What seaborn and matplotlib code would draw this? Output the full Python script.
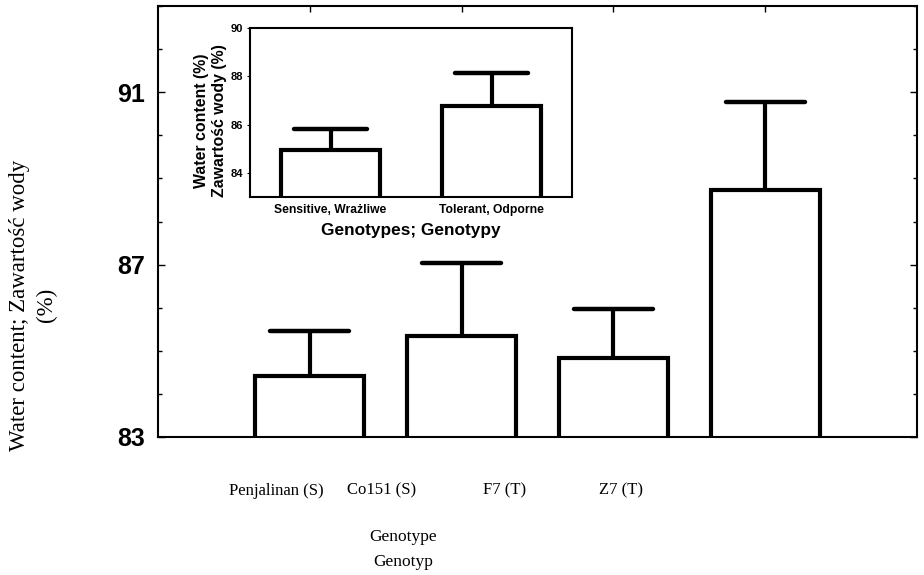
import matplotlib
matplotlib.use("Agg")
import matplotlib.pyplot as plt
import seaborn as sns
import pandas as pd
import numpy as np
from matplotlib.ticker import MultipleLocator

# ---- data ----
main_genotypes = ["Penjalinan (S)", "Co151 (S)", "F7 (T)", "Z7 (T)"]
main_means = [84.41, 85.34, 84.83, 88.72]
main_upper = [85.45, 87.03, 85.96, 90.78]
main_yticks = [83, 87, 91]

inset_groups = ["Sensitive, Wrażliwe", "Tolerant, Odporne"]
inset_means = [84.95, 86.77]
inset_upper = [85.82, 88.13]
inset_yticks = [84, 86, 88, 90]

sns.set_style("white")
plt.rcParams["font.family"] = ["Liberation Sans", "DejaVu Sans"]
plt.rcParams.update({"text.color": "black", "axes.labelcolor": "black",
                     "xtick.color": "black", "ytick.color": "black"})
SERIF = ["Liberation Serif", "DejaVu Serif"]

W, H = 924, 575
fig = plt.figure(figsize=(W / 100, H / 100), dpi=100)

def fx(px):
    return px / W

def fy(py):
    return 1 - py / H

# ---- main axes ----
ax = fig.add_axes([fx(158), fy(437), fx(917) - fx(158), fy(6) - fy(437)])
df_main = pd.DataFrame({"Genotype": main_genotypes, "Water": main_means})
sns.barplot(data=df_main, x="Genotype", y="Water", ax=ax, color="white",
            edgecolor="black", linewidth=3.0, width=0.72, errorbar=None,
            order=main_genotypes, zorder=2)
xpos = np.arange(len(main_genotypes))
err = np.array(main_upper) - np.array(main_means)
ax.errorbar(xpos, main_upper, yerr=[err, np.zeros_like(err)], fmt="none",
            ecolor="black", elinewidth=3.0, capsize=0, zorder=1)
ax.hlines(main_upper, xpos - 0.26, xpos + 0.26, color="black", linewidth=3.2,
          capstyle="round", zorder=3)
ax.set_xlim(-1, len(main_genotypes))
ax.set_ylim(83, 93)
ax.set_yticks(main_yticks)
ax.set_yticklabels([str(v) for v in main_yticks], fontsize=18, fontweight="bold")
ax.yaxis.set_minor_locator(MultipleLocator(1))
ax.set_xticks(xpos, labels=[""] * len(xpos))
label_pos = [-0.22, 0.47, 1.28, 2.05]
ax.set_xticks(label_pos, labels=main_genotypes, minor=True)
for t in ax.get_xticklabels(minor=True):
    t.set_family(SERIF)
    t.set_fontsize(12)
ax.tick_params(axis="x", which="minor", length=0, pad=33)
ax.tick_params(axis="x", which="major", direction="in", length=4, top=True, bottom=True, width=1)
ax.tick_params(axis="y", which="both", direction="in", left=True, right=True, width=1)
ax.tick_params(axis="y", which="major", length=5, pad=9.5)
ax.tick_params(axis="y", which="minor", length=3)
for s in ax.spines.values():
    s.set_linewidth(1.5)
    s.set_color("black")
ax.set_xlabel("Genotype\nGenotyp", family=SERIF, fontsize=12.5, linespacing=1.75)
ax.xaxis.set_label_coords((403 - 158) / 759, (437 - 529) / 431)
ax.xaxis.label.set_va("top")
ax.set_ylabel("Water content; Zawartość wody\n(%)", family=SERIF,
              fontsize=16.5, linespacing=1.35)
ax.yaxis.set_label_coords((57 - 158) / 759, (437 - 305) / 431)

# ---- inset axes ----
ai = fig.add_axes([fx(250), fy(197), fx(572) - fx(250), fy(28) - fy(197)])
df_in = pd.DataFrame({"Group": inset_groups, "Water": inset_means})
sns.barplot(data=df_in, x="Group", y="Water", ax=ai, color="white",
            edgecolor="black", linewidth=3.0, width=0.62, errorbar=None,
            order=inset_groups, zorder=2)
ipos = np.arange(len(inset_groups))
ierr = np.array(inset_upper) - np.array(inset_means)
ai.errorbar(ipos, inset_upper, yerr=[ierr, np.zeros_like(ierr)], fmt="none",
            ecolor="black", elinewidth=3.0, capsize=0, zorder=1)
ai.hlines(inset_upper, ipos - 0.225, ipos + 0.225, color="black", linewidth=3.2,
          capstyle="round", zorder=3)
ai.set_xlim(-0.5, 1.5)
ai.set_ylim(83, 90)
ai.set_yticks(inset_yticks)
ai.set_yticklabels([str(v) for v in inset_yticks], fontsize=8, fontweight="bold")
ai.set_xticks(ipos, labels=inset_groups, fontsize=8.75, fontweight="bold")
ai.tick_params(axis="y", direction="out", length=2, left=True, width=0.8, pad=3)
ai.tick_params(axis="x", length=0, pad=5)
for s in ai.spines.values():
    s.set_linewidth(1.5)
    s.set_color("black")
ai.set_xlabel("Genotypes; Genotypy", fontsize=12.4, fontweight="bold", labelpad=5)
ai.set_ylabel("Water content (%)\nZawartość wody (%)", fontsize=11.4, fontweight="bold",
              linespacing=1.25)
ai.yaxis.set_label_coords((227 - 250) / 322, (197 - 121) / 169)

fig.savefig("out.png", dpi=100, facecolor="white")
